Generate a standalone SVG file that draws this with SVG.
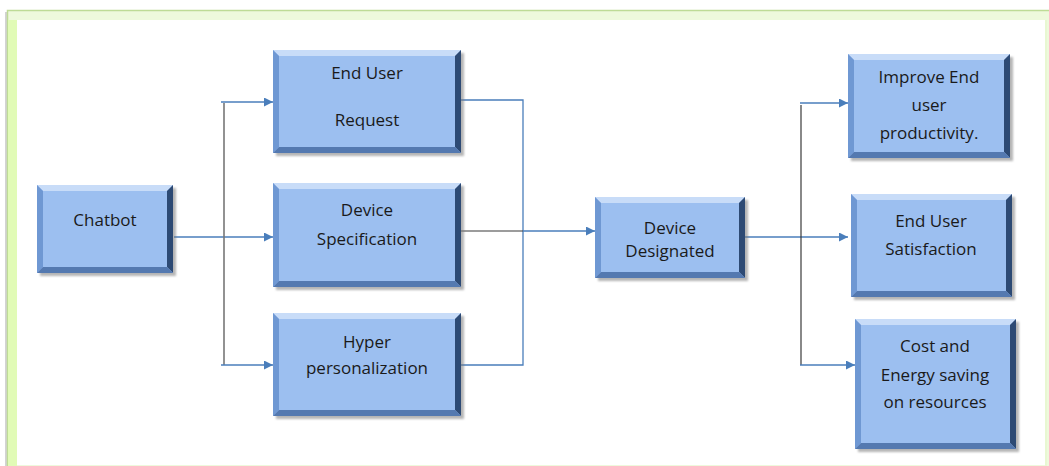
<svg xmlns="http://www.w3.org/2000/svg" width="1049" height="466" viewBox="0 0 1049 466">
  <style>
    .base { fill: #9cbff0; }
    .bt { fill: #c8dcf8; }
    .bl { fill: #6f98d3; }
    .br { fill: #2d4a74; }
    .bb { fill: #5479b0; }
    .shadow { fill: #7a7a7a; opacity: 0.55; filter: url(#soft); }
    .label { font-family: "Open Sans", "Liberation Sans", sans-serif; font-size: 17px; fill: #1a1a1a; text-anchor: middle; }
    .blue { stroke: #4a7ebb; stroke-width: 1.3; fill: none; }
    .dark { stroke: #3a3a3a; stroke-width: 1.2; fill: none; }
    .gray { stroke: #777777; stroke-width: 1.6; fill: none; }
  </style>
  <defs>
    <filter id="soft" x="-10%" y="-10%" width="120%" height="120%">
      <feGaussianBlur stdDeviation="1.2"/>
    </filter>
    <marker id="arrow" viewBox="0 0 10 10" refX="10" refY="5" markerWidth="10" markerHeight="9" markerUnits="userSpaceOnUse" orient="auto">
      <path d="M0,0 L10,5 L0,10 Z" fill="#4a7ebb"/>
    </marker>
  </defs>

  <!-- page frame -->
  <rect x="0" y="0" width="1049" height="466" fill="#ffffff"/>
  <line x1="6" y1="12" x2="6" y2="466" stroke="#c4c4c4" stroke-width="1.5"/>
  <rect x="7.5" y="10.5" width="1045" height="460" fill="#eef9dc" stroke="#bedb96" stroke-width="1.5"/>
  <rect x="8" y="20" width="9" height="446" fill="#e1fbb6"/>
  <rect x="17" y="20" width="1028" height="445" fill="#ffffff"/>
  <line x1="1046" y1="20" x2="1046" y2="466" stroke="#e6f6cf" stroke-width="1.5"/>

  <!-- connectors -->
  <g id="connectors">
    <line class="blue" x1="174" y1="237" x2="273" y2="237" marker-end="url(#arrow)"/>
    <line class="gray" x1="224" y1="103" x2="224" y2="365"/>
    <line class="blue" x1="221" y1="102" x2="273" y2="102" marker-end="url(#arrow)"/>
    <line class="blue" x1="221" y1="365" x2="273" y2="365" marker-end="url(#arrow)"/>
    <polyline class="blue" points="461,100 523,100 523,365 461,365"/>
    <line class="dark" x1="461" y1="231" x2="523" y2="231"/>
    <line class="blue" x1="523" y1="231" x2="595" y2="231" marker-end="url(#arrow)"/>
    <line class="blue" x1="745" y1="237" x2="848" y2="237" marker-end="url(#arrow)"/>
    <line class="dark" x1="801" y1="105" x2="801" y2="365"/>
    <line class="blue" x1="800" y1="103" x2="848" y2="103" marker-end="url(#arrow)"/>
    <line class="blue" x1="800" y1="365" x2="855" y2="365" marker-end="url(#arrow)"/>
  </g>

  <g id="chatbot">
    <rect class="shadow" x="40" y="188" width="136" height="88"/>
    <rect class="base" x="37" y="185" width="136" height="88"/>
    <polygon class="bt" points="37,185 173,185 167,191 43,191"/>
    <polygon class="bl" points="37,185 43,191 43,267 37,273"/>
    <polygon class="br" points="173,185 173,273 167,267 167,191"/>
    <polygon class="bb" points="37,273 173,273 167,267 43,267"/>
    <text class="label" x="105" y="226">Chatbot</text>
  </g>

  <g id="end-user-request">
    <rect class="shadow" x="276" y="53" width="188" height="103"/>
    <rect class="base" x="273" y="50" width="188" height="103"/>
    <polygon class="bt" points="273,50 461,50 455,56 279,56"/>
    <polygon class="bl" points="273,50 279,56 279,147 273,153"/>
    <polygon class="br" points="461,50 461,153 455,147 455,56"/>
    <polygon class="bb" points="273,153 461,153 455,147 279,147"/>
    <text class="label" x="367" y="79">End User</text>
    <text class="label" x="367" y="126">Request</text>
  </g>

  <g id="device-specification">
    <rect class="shadow" x="276" y="186" width="188" height="104"/>
    <rect class="base" x="273" y="183" width="188" height="104"/>
    <polygon class="bt" points="273,183 461,183 455,189 279,189"/>
    <polygon class="bl" points="273,183 279,189 279,281 273,287"/>
    <polygon class="br" points="461,183 461,287 455,281 455,189"/>
    <polygon class="bb" points="273,287 461,287 455,281 279,281"/>
    <text class="label" x="367" y="216">Device</text>
    <text class="label" x="367" y="245">Specification</text>
  </g>

  <g id="hyper-personalization">
    <rect class="shadow" x="276" y="316" width="188" height="103"/>
    <rect class="base" x="273" y="313" width="188" height="103"/>
    <polygon class="bt" points="273,313 461,313 455,319 279,319"/>
    <polygon class="bl" points="273,313 279,319 279,410 273,416"/>
    <polygon class="br" points="461,313 461,416 455,410 455,319"/>
    <polygon class="bb" points="273,416 461,416 455,410 279,410"/>
    <text class="label" x="367" y="348">Hyper</text>
    <text class="label" x="367" y="374">personalization</text>
  </g>

  <g id="device-designated">
    <rect class="shadow" x="598" y="200" width="150" height="81"/>
    <rect class="base" x="595" y="197" width="150" height="81"/>
    <polygon class="bt" points="595,197 745,197 739,203 601,203"/>
    <polygon class="bl" points="595,197 601,203 601,272 595,278"/>
    <polygon class="br" points="745,197 745,278 739,272 739,203"/>
    <polygon class="bb" points="595,278 745,278 739,272 601,272"/>
    <text class="label" x="670" y="234">Device</text>
    <text class="label" x="670" y="257">Designated</text>
  </g>

  <g id="improve-productivity">
    <rect class="shadow" x="851" y="57" width="162" height="104"/>
    <rect class="base" x="848" y="54" width="162" height="104"/>
    <polygon class="bt" points="848,54 1010,54 1004,60 854,60"/>
    <polygon class="bl" points="848,54 854,60 854,152 848,158"/>
    <polygon class="br" points="1010,54 1010,158 1004,152 1004,60"/>
    <polygon class="bb" points="848,158 1010,158 1004,152 854,152"/>
    <text class="label" x="929" y="83">Improve End</text>
    <text class="label" x="929" y="111">user</text>
    <text class="label" x="929" y="139">productivity.</text>
  </g>

  <g id="user-satisfaction">
    <rect class="shadow" x="854" y="197" width="161" height="103"/>
    <rect class="base" x="851" y="194" width="161" height="103"/>
    <polygon class="bt" points="851,194 1012,194 1006,200 857,200"/>
    <polygon class="bl" points="851,194 857,200 857,291 851,297"/>
    <polygon class="br" points="1012,194 1012,297 1006,291 1006,200"/>
    <polygon class="bb" points="851,297 1012,297 1006,291 857,291"/>
    <text class="label" x="931" y="227">End User</text>
    <text class="label" x="931" y="255">Satisfaction</text>
  </g>

  <g id="cost-energy-saving">
    <rect class="shadow" x="858" y="322" width="161" height="130"/>
    <rect class="base" x="855" y="319" width="161" height="130"/>
    <polygon class="bt" points="855,319 1016,319 1010,325 861,325"/>
    <polygon class="bl" points="855,319 861,325 861,443 855,449"/>
    <polygon class="br" points="1016,319 1016,449 1010,443 1010,325"/>
    <polygon class="bb" points="855,449 1016,449 1010,443 861,443"/>
    <text class="label" x="935" y="352">Cost and</text>
    <text class="label" x="935" y="381">Energy saving</text>
    <text class="label" x="935" y="408">on resources</text>
  </g>
</svg>
